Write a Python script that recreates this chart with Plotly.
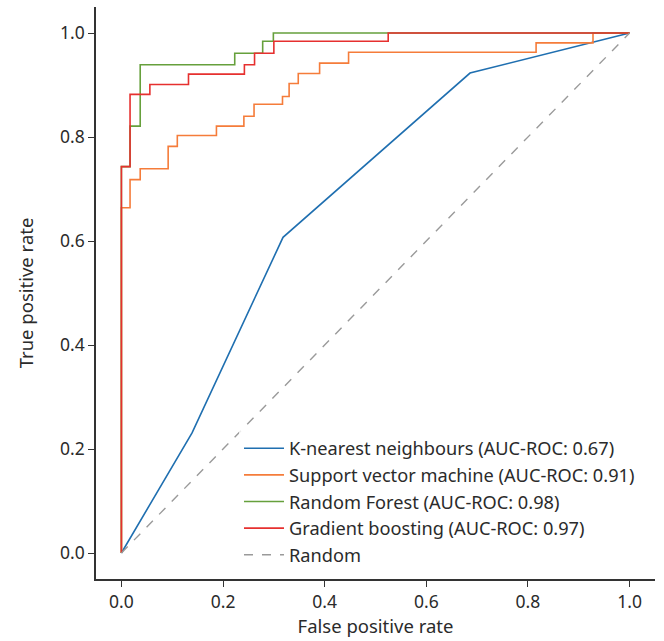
import plotly.graph_objects as go

# ---- data ----
knn_fpr = [0.0, 0.139, 0.318, 0.686, 1.0]
knn_tpr = [0.0, 0.231, 0.607, 0.923, 1.0]

svm_fpr = [0.0, 0.0, 0.017, 0.017, 0.037, 0.037, 0.092, 0.092, 0.110, 0.110,
           0.187, 0.187, 0.241, 0.241, 0.261, 0.261, 0.317, 0.317, 0.330, 0.330,
           0.348, 0.348, 0.390, 0.390, 0.447, 0.447, 0.816, 0.816, 0.928, 0.928, 1.0]
svm_tpr = [0.0, 0.664, 0.664, 0.718, 0.718, 0.739, 0.739, 0.782, 0.782, 0.803,
           0.803, 0.821, 0.821, 0.840, 0.840, 0.863, 0.863, 0.878, 0.878, 0.903,
           0.903, 0.922, 0.922, 0.942, 0.942, 0.963, 0.963, 0.981, 0.981, 1.0, 1.0]

rf_fpr = [0.0, 0.0, 0.017, 0.017, 0.037, 0.037, 0.223, 0.223, 0.278, 0.278,
          0.299, 0.299, 1.0]
rf_tpr = [0.0, 0.743, 0.743, 0.821, 0.821, 0.939, 0.939, 0.961, 0.961, 0.984,
          0.984, 1.0, 1.0]

gb_fpr = [0.0, 0.0, 0.017, 0.017, 0.056, 0.056, 0.132, 0.132, 0.242, 0.242,
          0.262, 0.262, 0.300, 0.300, 0.525, 0.525, 1.0]
gb_tpr = [0.0, 0.743, 0.743, 0.882, 0.882, 0.901, 0.901, 0.921, 0.921, 0.939,
          0.939, 0.961, 0.961, 0.984, 0.984, 1.0, 1.0]

rand_fpr = [0.0, 1.0]
rand_tpr = [0.0, 1.0]

names = [
    "K-nearest neighbours (AUC-ROC: 0.67)",
    "Support vector machine (AUC-ROC: 0.91)",
    "Random Forest (AUC-ROC: 0.98)",
    "Gradient boosting (AUC-ROC: 0.97)",
    "Random",
]
colors = ["#1f6fb0", "#f57c3a", "#66a03c", "#e6302f", "#9a9a9a"]
tick_vals = [0.0, 0.2, 0.4, 0.6, 0.8, 1.0]
tick_text = ["0.0", "0.2", "0.4", "0.6", "0.8", "1.0"]

FONT = "Noto Sans"
TXT = "#2b2b2b"

fig = go.Figure()
series = [(knn_fpr, knn_tpr), (svm_fpr, svm_tpr), (rf_fpr, rf_tpr), (gb_fpr, gb_tpr)]
for (x, y), n, c in zip(series, names[:4], colors[:4]):
    fig.add_trace(go.Scatter(x=x, y=y, mode="lines", name=n,
                             line=dict(color=c, width=1.6)))
fig.add_trace(go.Scatter(x=rand_fpr, y=rand_tpr, mode="lines", name=names[4],
                         line=dict(color=colors[4], width=1.4, dash="dash")))

axis_common = dict(
    range=[-0.05, 1.05], tickvals=tick_vals, ticktext=tick_text,
    showgrid=False, zeroline=False, showline=True, linecolor="#333333",
    linewidth=1.5, ticks="outside", ticklen=6, tickwidth=1.3, tickcolor="#333333",
    tickfont=dict(family=FONT, size=17.5, color=TXT),
    mirror=False, automargin=False,
)
fig.update_xaxes(**axis_common,
                 title=dict(text="False positive rate", standoff=2,
                            font=dict(family=FONT, size=18.5, color=TXT)))
fig.update_yaxes(**axis_common,
                 title=dict(text="True positive rate", standoff=22,
                            font=dict(family=FONT, size=18.5, color=TXT)))

fig.update_layout(
    width=664, height=641,
    margin=dict(l=96, r=9, t=7, b=62),
    plot_bgcolor="white", paper_bgcolor="white",
    font=dict(family=FONT, size=17, color=TXT),
    legend=dict(x=0.2558, y=0.009, xanchor="left", yanchor="bottom",
                bgcolor="rgba(255,255,255,0.8)", borderwidth=0,
                font=dict(family=FONT, size=18.2, color=TXT),
                tracegroupgap=0, itemwidth=40),
    showlegend=True,
)

fig.write_html("out.html", config={"displayModeBar": False},
               post_script="document.body.style.margin='0px';")
